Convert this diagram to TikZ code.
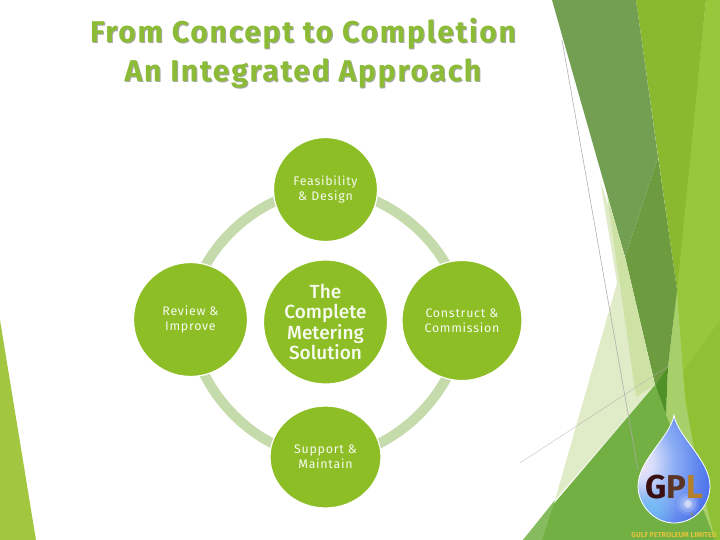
\documentclass[tikz,border=0pt]{standalone}
\usepackage{fontspec}
\setmainfont{Fira Sans}
\newfontfamily\hubfont{Fira Sans Medium}
\usetikzlibrary{backgrounds,shapes.geometric}
\definecolor{leaf}{HTML}{8DBE26}
\definecolor{ringc}{HTML}{C6DBAC}
\definecolor{titlec}{HTML}{8CBC35}
\definecolor{gold}{HTML}{E2C43C}
\definecolor{leftgreen}{HTML}{A2C640}
\definecolor{rightgreen}{HTML}{98C73B}
\definecolor{rightlow}{HTML}{90C134}
\definecolor{midgreen}{HTML}{8AB82F}
\definecolor{paleband}{HTML}{A8D06A}
\definecolor{darkone}{HTML}{739F52}
\definecolor{darktwo}{HTML}{6C9B40}
\definecolor{darktip}{HTML}{4F9027}
\definecolor{lowgreen}{HTML}{72B043}
\definecolor{lowstrip}{HTML}{86BB5E}
\definecolor{paleone}{HTML}{E0EBC8}
\definecolor{paletwo}{HTML}{CFE2A6}
\definecolor{dA}{HTML}{FBE9F8}
\definecolor{dB}{HTML}{D8DCFB}
\definecolor{dC}{HTML}{8FB0F5}
\definecolor{dD}{HTML}{5F86EE}
\definecolor{dE}{HTML}{3A5CE8}
\definecolor{dF}{HTML}{1428D8}
\pgfdeclareradialshading{dropshade}{\pgfpoint{-26bp}{4bp}}{
  color(0bp)=(dA); color(8bp)=(dB); color(18bp)=(dC);
  color(30bp)=(dD); color(44bp)=(dE); color(62bp)=(dF)}
\tikzset{
  bubble/.style={circle,fill=leaf,draw=white,line width=1.2pt,inner sep=0pt,text=white!92!leaf,align=center},
  smalltext/.style={font=\fontsize{12.4}{15}\selectfont\addfontfeatures{LetterSpace=6}},
  bigtext/.style={font=\hubfont\fontsize{19}{20.4}\selectfont},
  ringline/.style={draw=ringc,line width=10pt,line cap=butt},
  titletext/.style={font=\bfseries\fontsize{30}{38.5}\selectfont\addfontfeatures{LetterSpace=6},align=center,text=titlec},
  titleshadow/.style={font=\bfseries\fontsize{30}{38.5}\selectfont\addfontfeatures{LetterSpace=6},align=center,text=black!35},
  thinline/.style={draw=black!33,line width=.55pt}
}
\def\droppath{(674,415) .. controls (671,436) and (638,460) .. (638,486)
  .. controls (638,506) and (655,523) .. (674,523)
  .. controls (694,523) and (710,506) .. (710,486)
  .. controls (710,460) and (677,436) .. (674,415) -- cycle}
\begin{document}
\begin{tikzpicture}[x=1pt,y=-1pt]
\useasboundingbox (0,0) rectangle (720,540);
% nodes
\node[titleshadow] (tshadow) at (304,54) {From Concept to Completion\\An Integrated Approach};
\node[titletext] (title) at (303,53) {From Concept to Completion\\An Integrated Approach};
\node[bubble,bigtext,minimum size=124pt] (hub) at (325.5,322) {The\\Complete\\Metering\\Solution};
\node[bubble,smalltext,minimum size=104pt] (top) at (325.5,189.5) {Feasibility\\\& Design};
\node[bubble,smalltext,minimum size=120pt] (east) at (462,320.5) {Construct \&\\Commission};
\node[bubble,smalltext,minimum size=114pt] (west) at (190.5,319.5) {Review \&\\Improve};
\node[ellipse,fill=leaf,draw=white,line width=1.2pt,inner sep=0pt,text=white!92!leaf,align=center,smalltext,minimum width=111pt,minimum height=102pt] (south) at (325.5,457) {Support \&\\Maintain};
\begin{scope}[on background layer]
\fill[leftgreen] (0,320) -- (36,540) -- (0,540) -- cycle;
% right hand facets
\fill[rightgreen] (706,0) -- (720,0) -- (720,540) -- (600,540) -- (666,415) -- (678,270) -- cycle;
\fill[rightlow] (720,320) -- (720,540) -- (705,540) -- (683,372) -- cycle;
\fill[midgreen] (636,0) -- (706,0) -- (677,290) -- cycle;
\fill[paleband] (677,290) -- (668,367) -- (666,415) -- (715,540) -- (700,480) -- (685,400) -- cycle;
\fill[darktwo] (658,157) -- (677,290) -- (668,367) -- (655,385) -- (625,257) -- cycle;
\fill[darkone] (552,0) -- (636,0) -- (658,157) -- (625,257) -- cycle;
\fill[darktip] (655,385) -- (668,367) -- (666,415) -- cycle;
\fill[paleone] (600,180) -- (625,257) -- (655,385) -- (555,500) -- (617,283) -- cycle;
\fill[paletwo] (607,195) -- (625,257) -- (655,385) -- (636,397) -- cycle;
\fill[lowgreen] (523,540) -- (655,385) -- (666,415) -- (715,540) -- cycle;
\fill[lowstrip] (523,540) -- (555,500) -- (542,540) -- cycle;
\coordinate (lineAa) at (562,40);
\coordinate (lineAb) at (638,470);
\coordinate (lineBa) at (520,463);
\coordinate (lineBb) at (670,365);
\draw[thinline] (lineAa) -- (lineAb);
\draw[thinline,opacity=.6] (lineBa) -- (lineBb);
% ring
\draw[ringline] (top.center) to[out=0,in=90,looseness=.9] (east.center);
\draw[ringline] (east.center) to[out=-90,in=0,looseness=.9] (south.center);
\draw[ringline] (south.center) to[out=180,in=-90,looseness=.9] (west.center);
\draw[ringline] (west.center) to[out=90,in=180,looseness=.9] (top.center);
\end{scope}
% logo
\path[shading=dropshade] \droppath;
\begin{scope}
\clip \droppath;
\foreach \r/\o in {22/.12,17/.14,12/.16,8/.18}{\fill[cyan!60!white,opacity=\o] (652,510) circle (\r pt);}
\foreach \r/\o in {11/.12,8/.18,5/.3,3/.45}{\fill[white,opacity=\o] (688,504) circle (\r pt);}
\end{scope}
\draw[white,line width=.8pt] \droppath;
\node[inner sep=0pt,font=\bfseries\fontsize{33}{33}\selectfont] (gpl) at (674,487)
  {\textcolor[HTML]{3A0F12}{G}\textcolor[HTML]{5B3626}{P}\textcolor[HTML]{B5802A}{L}};
\node[inner sep=0pt,text=gold!70!black,font=\fontsize{6}{6}\selectfont] (pageno) at (692,514) {4};
\node[inner sep=0pt,text=gold,font=\bfseries\fontsize{7.2}{7}\selectfont] (gulf) at (674,535) {GULF PETROLEUM LIMITED};
\end{tikzpicture}
\end{document}
